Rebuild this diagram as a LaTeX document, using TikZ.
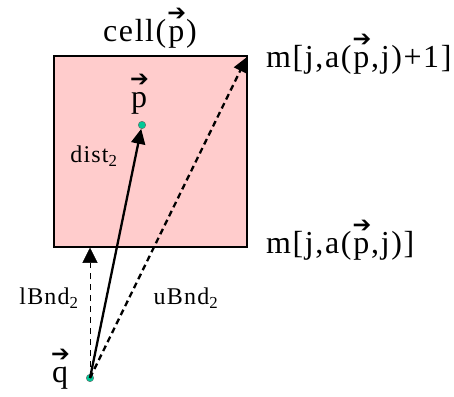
\documentclass[tikz,border=0pt]{standalone}
\usepackage{amsmath}
\usepackage{fontspec}
\setmainfont[LetterSpace=5]{Liberation Serif}
\newfontfamily\arrowfont{DejaVu Sans}
\usetikzlibrary{arrows.meta}
\definecolor{cellpink}{RGB}{255,204,204}
\definecolor{dotgreen}{RGB}{0,200,150}
\newcommand{\vecv}[1]{\ensuremath{\overset{\text{\arrowfont\kern1pt➔}}{\text{#1}}}}
\tikzset{bound/.style={-{Triangle[length=15pt,width=14pt]},line width=2.3pt},
 dashbound/.style={bound,dash pattern=on 6pt off 4pt},
 lowbound/.style={-{Triangle[length=15pt,width=15pt]},thin,dash pattern=on 6pt off 5pt},
 ptdot/.style={circle,fill=dotgreen,draw=black!60,inner sep=0pt,minimum size=7.5pt},
 biglabel/.style={font=\fontsize{32}{35}\selectfont,inner sep=0pt},
 smalllabel/.style={font=\fontsize{24}{27}\selectfont,inner sep=0pt}}

\begin{document}
\begin{tikzpicture}[x=1pt,y=-1pt]
\useasboundingbox (0,0) rectangle (454,396);
% the cell and its corners
\node[draw,line width=1.5pt,fill=cellpink,minimum width=193pt,minimum height=191pt,inner sep=0pt] (cell) at (150.5,151.5) {};
\node[biglabel] (celltxt) at (150,27) {cell(\vecv{p})};
\node[biglabel,anchor=west] (mtop) at (266,53) {m[j,a(\vecv{p},j)+1]};
\node[biglabel,anchor=west] (mbot) at (266,239) {m[j,a(\vecv{p},j)]};
% points
\node[ptdot] (p) at (142,125) {};
\node[ptdot] (q) at (90,378) {};
\node[biglabel] (plabel) at (139,93) {\vecv{p}};
\node[biglabel] (qlabel) at (60,368) {\vecv{q}};
% distances
\draw[lowbound] (q.center) -- (q.center |- cell.south);
\draw[bound] (q.center) -- (p);
\draw[dashbound,shorten >=2pt] (q.center) -- (cell.north east);
\node[smalllabel] (dist) at (94,156) {dist\textsubscript{2}};
\node[smalllabel] (lbnd) at (49,298) {lBnd\textsubscript{2}};
\node[smalllabel] (ubnd) at (186,298) {uBnd\textsubscript{2}};
\end{tikzpicture}
\end{document}
